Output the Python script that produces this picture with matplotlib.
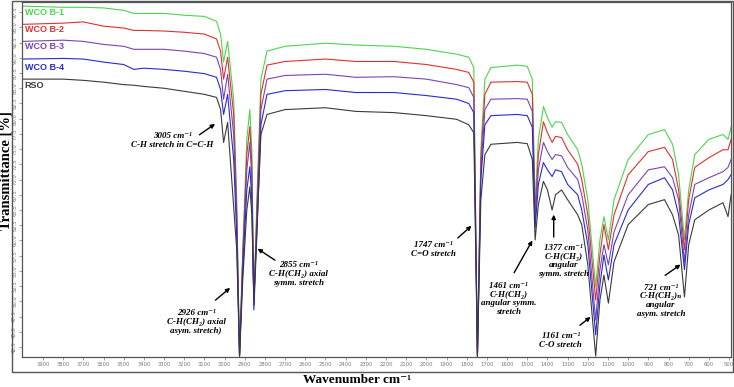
import matplotlib
matplotlib.use("Agg")
import matplotlib.pyplot as plt
from matplotlib.patches import Rectangle
import numpy as np

# Wavenumber points (cm-1)
wavenumber = [4000, 3800, 3700, 3600, 3500, 3450, 3400, 3300, 3200, 3100,
              3040, 3020, 3005, 2985, 2955, 2940, 2926, 2910, 2890, 2875,
              2865, 2855, 2840, 2820, 2790, 2700, 2500, 2350, 2160, 2000,
              1850, 1790, 1765, 1747, 1730, 1710, 1680, 1550, 1500, 1475,
              1461, 1445, 1420, 1400, 1377, 1360, 1330, 1300, 1250, 1230,
              1200, 1161, 1140, 1120, 1098, 1070, 1000, 900, 820, 780,
              750, 721, 700, 670, 600, 530, 505, 490]

# Transmittance (%) of each sample
wco_b1 = [98.5, 98.3, 98.3, 98.2, 97.8, 97.3, 97.3, 97.3, 97.0, 96.8,
          96.0, 93.9, 89.3, 92.7, 83.2, 66.7, 41.0, 58.5, 76.6, 81.5,
          74.9, 49.4, 66.7, 86.5, 91.1, 91.9, 92.4, 92.1, 91.9, 91.4,
          90.6, 90.1, 88.4, 41.0, 74.9, 86.5, 88.4, 88.8, 88.6, 86.5,
          65.9, 76.6, 82.0, 80.2, 78.6, 79.5, 79.4, 77.4, 74.9, 72.5,
          66.7, 52.4, 60.1, 63.9, 60.1, 66.7, 73.3, 77.4, 78.2, 75.8,
          70.8, 60.1, 68.3, 74.1, 76.6, 77.4, 76.6, 78.6]
wco_b2 = [95.5, 95.7, 95.9, 95.2, 94.9, 94.5, 94.5, 94.4, 94.2, 93.9,
          93.1, 91.1, 86.5, 90.1, 80.7, 65.0, 41.0, 57.6, 74.1, 78.7,
          72.5, 49.4, 65.0, 84.0, 88.8, 89.4, 89.8, 89.4, 89.4, 88.9,
          88.1, 87.6, 86.0, 41.0, 73.3, 84.0, 86.0, 86.1, 86.0, 84.0,
          64.2, 74.1, 79.5, 77.7, 76.1, 77.1, 76.9, 74.9, 72.5, 70.0,
          64.2, 50.2, 57.6, 62.6, 58.5, 64.2, 70.8, 74.6, 75.3, 73.3,
          68.3, 58.5, 66.7, 72.0, 73.6, 74.9, 74.9, 76.6]
wco_b3 = [92.7, 92.9, 92.7, 92.2, 91.9, 91.4, 91.4, 91.4, 91.1, 90.7,
          90.1, 88.1, 83.2, 87.3, 77.4, 63.4, 41.0, 56.8, 71.6, 76.1,
          70.0, 49.4, 63.4, 81.5, 86.5, 87.1, 87.3, 86.8, 86.9, 86.5,
          85.6, 85.1, 83.5, 41.0, 71.6, 81.5, 83.2, 83.3, 83.2, 81.2,
          63.4, 71.6, 76.1, 74.6, 73.3, 74.1, 73.9, 72.0, 70.0, 67.5,
          61.7, 46.9, 55.2, 59.3, 56.0, 61.4, 67.5, 71.6, 72.1, 70.3,
          66.7, 56.5, 64.2, 69.2, 70.3, 71.3, 72.0, 73.3]
wco_b4 = [89.8, 89.9, 89.8, 89.3, 88.9, 88.1, 88.3, 88.1, 87.8, 87.4,
          86.8, 84.8, 80.7, 84.0, 73.3, 60.9, 41.0, 55.2, 68.3, 72.1,
          66.7, 48.6, 60.9, 79.0, 84.0, 84.6, 84.8, 84.3, 84.3, 83.8,
          83.2, 82.5, 81.0, 41.0, 70.0, 79.0, 80.5, 80.7, 80.5, 78.6,
          62.1, 69.2, 72.8, 71.6, 70.5, 71.6, 71.3, 69.2, 67.5, 65.0,
          59.3, 44.5, 52.7, 57.6, 53.5, 59.3, 65.0, 69.2, 70.3, 68.3,
          64.2, 55.2, 62.6, 67.0, 68.3, 69.2, 70.0, 70.8]
rso = [86.5, 86.5, 86.3, 86.0, 85.6, 85.5, 85.3, 85.0, 84.5, 84.0,
       83.5, 81.5, 76.1, 79.4, 65.5, 58.5, 41.0, 53.5, 65.0, 68.8,
       64.2, 50.2, 61.7, 77.4, 80.7, 81.5, 81.8, 81.2, 81.0, 80.5,
       79.9, 79.0, 77.7, 41.0, 66.7, 74.1, 75.8, 76.1, 75.9, 73.3,
       60.1, 65.9, 69.7, 68.3, 65.0, 67.5, 68.3, 66.7, 64.2, 62.6,
       56.0, 41.0, 50.2, 54.3, 49.7, 56.5, 62.6, 65.9, 66.7, 64.2,
       60.9, 50.7, 59.3, 63.4, 65.0, 66.2, 63.9, 67.5]

series_names = ["WCO B-1", "WCO B-2", "WCO B-3", "WCO B-4", "RSO"]
series_values = [wco_b1, wco_b2, wco_b3, wco_b4, rso]
series_colors = ["#4fd34f", "#e03030", "#7a45b0", "#2a2ad0", "#3a3a3a"]

serif = ["Liberation Serif", "DejaVu Serif"]

fig = plt.figure(figsize=(7.34, 3.87), dpi=100)
ax = fig.add_axes([0.030, 0.0775, 0.966, 0.917])

# plot the spectra
for name, vals, col in zip(series_names, series_values, series_colors):
    ax.plot(wavenumber, vals, color=col, lw=0.8, label=name)

ax.set_xlim(4004, 490)
ax.set_ylim(40.85, 99.15)
ax.set_xticks(np.arange(3900, 499, -100))
ax.set_xticklabels([str(v) for v in range(3900, 499, -100)])
yt = np.arange(42.5, 97.6, 2.5)
ax.set_yticks(yt)
ax.set_yticklabels([f"{v:.1f}" for v in yt], rotation=90, va="center")
ax.tick_params(axis="both", labelsize=3.8, labelcolor="#777777", length=2, width=0.5, color="#777777", pad=1.5)
for s in ax.spines.values():
    s.set_color("#555555")
    s.set_linewidth(0.9)

# sample labels
label_y = [0.972, 0.924, 0.876, 0.817, 0.766]
for name, col, yy in zip(series_names, series_colors, label_y):
    ax.text(0.004, yy, name, color=col, fontsize=6.5, fontweight="bold",
            family=["Liberation Sans", "DejaVu Sans"], transform=ax.transAxes, va="center")

# peak annotations: text, text position, arrow tail, arrow tip
notes = [
    ("3005 cm\u207b\u00b9\nC-H stretch in C=C-H", (3260, 76.4), (3136, 77.1), (3036, 79.4)),
    ("2926 cm\u207b\u00b9\nC-H(CH\u2082) axial\nasym. stretch)", (3141, 46.6), (3056, 49.9), (2962, 52.5)),
    ("2855 cm\u207b\u00b9\nC-H(CH\u2082) axial\nsymm. stretch", (2634, 54.5), (2739, 56.5), (2848, 58.9)),
    ("1747 cm\u207b\u00b9\nC=O stretch", (1964, 58.5), (1855, 60.1), (1766, 62.7)),
    ("1461 cm\u207b\u00b9\nC-H(CH\u2082)\nangular symm.\nstretch", (1592, 50.4), (1572, 54.3), (1468, 60.4)),
    ("1377 cm\u207b\u00b9\nC-H(CH\u2083)\nangular\nsymm. stretch", (1319, 56.6), (1369, 60.1), (1369, 64.7)),
    ("1161 cm\u207b\u00b9\nC-O stretch", (1334, 43.6), (1250, 45.8), (1175, 47.7)),
    ("721 cm\u207b\u00b9\nC-H(CH\u2082)\u2099\nangular\nasym. stretch", (838, 50.1), (828, 54.0), (729, 56.3)),
]
for txt, pos, tail, tip in notes:
    ax.text(pos[0], pos[1], txt, ha="center", va="center", fontsize=6.5,
            fontweight="bold", fontstyle="italic", family=serif, linespacing=1.1)
    ax.annotate("", xy=tip, xytext=tail,
                arrowprops=dict(arrowstyle="-|>", color="black", lw=1.0, mutation_scale=6))

fig.text(0.008, 0.56, "Transmittance [%]", rotation=90, ha="center", va="center",
         fontsize=10.5, fontweight="bold", family=serif)
fig.text(0.487, 0.018, "Wavenumber cm\u207b\u00b9", ha="center", va="center",
         fontsize=9.5, fontweight="bold", family=serif)

# outer frame
fig.patches.append(Rectangle((0.0163, 0.0388), 0.982, 0.959, transform=fig.transFigure,
                             fill=False, edgecolor="#555555", lw=1.0))

fig.savefig("out.png", dpi=100)
